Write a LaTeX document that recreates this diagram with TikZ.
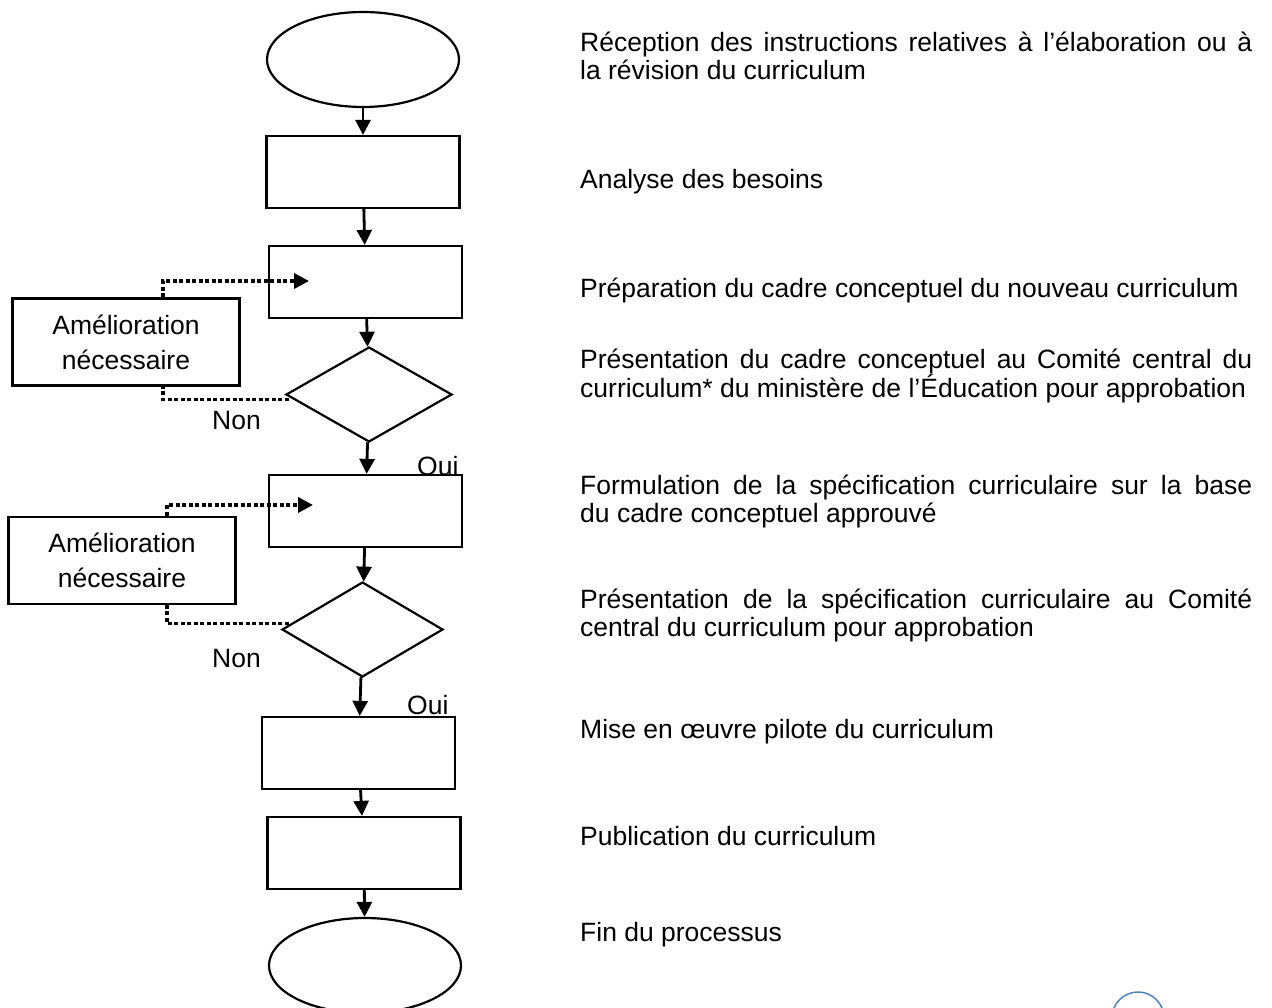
\documentclass[tikz,border=0pt]{standalone}
\usepackage{fontspec}
\setmainfont{Liberation Sans}
\usetikzlibrary{arrows.meta}
\usetikzlibrary{shapes.geometric}
\usetikzlibrary{positioning}
\definecolor{ringblue}{RGB}{79,129,189}
\setlength{\parindent}{0pt}
\setlength{\lineskiplimit}{-30pt}
\hyphenpenalty=10000
\exhyphenpenalty=10000

\begin{document}
\begin{tikzpicture}[
      x = 1pt, y = -1pt,
      >={Triangle[length=15pt, width=15pt]},
      font = \fontsize{26.5pt}{28pt}\selectfont,
      every node/.style = { inner sep = 0pt },
      shape box/.style = { draw, fill = white, line width = 2.2pt },
      terminal/.style = { shape box, ellipse, minimum width = 192pt, minimum height = 95pt },
      stepbox/.style = { shape box, rectangle, minimum width = 193pt, minimum height = 72pt },
      test/.style = { shape box, diamond, minimum width = 166pt, minimum height = 95pt },
      fix/.style = {
        shape box, rectangle, align = center,
        minimum width = 227pt, minimum height = 87pt,
        font = \fontsize{26.5pt}{35pt}\selectfont
      },
      flow/.style = { line width = 2.8pt, -> },
      retour/.style = { line width = 3.6pt, dash pattern = on 4pt off 2.5pt },
      caption/.style = { anchor = base west, text width = 672pt, align = justify },
      answer/.style = { anchor = base west },
    ]

    \useasboundingbox (0,0) rectangle (1272,1008);

    % answers first, the boxes cover them
    \node[answer] (Y1) at (417,475) {Oui};
    \node[answer] (Y2) at (407,714) {Oui};
    \node[answer] (N1) at (212,429) {Non};
    \node[answer] (N2) at (212,667) {Non};

    \node[terminal] (S) at (363,59.5) {};
    \node[stepbox] (B1) at (363,172) {};
    \node[stepbox] (B2) at (365.5,282) {};
    \node[test] (D1) at (369,394.5) {};
    \node[stepbox] (B3) at (365.5,511) {};
    \node[test, minimum width = 161pt] (D2) at (362.5,629.5) {};
    \node[stepbox] (B4) at (358.5,753) {};
    \node[stepbox] (B5) at (364,853) {};
    \node[terminal] (F) at (365,965.5) {};

    \node[fix] (A1) at (126,342) {Amélioration\\nécessaire};
    \node[fix] (A2) at (122,560.5) {Amélioration\\nécessaire};

    \foreach \a/\b in {S/B1, B1/B2, B2/D1, D1/B3, B3/D2, D2/B4, B4/B5, B5/F} {
      \draw[flow] (\a) -- (\b);
    }

    \coordinate (in2) at (309,281);
    \coordinate (in3) at (313,505);
    \draw[retour, ->] ([xshift=37pt]A1.north) |- (in2);
    \draw[retour] ([shift={(4pt,-5pt)}]D1.west) -| ([xshift=37pt]A1.south);
    \draw[retour, ->] ([xshift=45pt]A2.north) |- (in3);
    \draw[retour] ([shift={(8pt,6pt)}]D2.west) -| ([xshift=45pt]A2.south);

    \node[caption] (T1) at (580,52) {Réception des instructions relatives à l’élaboration ou à\linebreak la révision du curriculum};
    \node[caption] (T2) at (580,189) {Analyse des besoins};
    \node[caption] (T3) at (580,298) {Préparation du cadre conceptuel du nouveau curriculum};
    \node[caption] (T4) at (580,368) {Présentation du cadre conceptuel au Comité central du\linebreak curriculum* du ministère de l’Éducation pour approbation};
    \node[caption] (T5) at (580,494) {Formulation de la spécification curriculaire sur la base\linebreak du cadre conceptuel approuvé};
    \node[caption] (T6) at (580,608) {Présentation de la spécification curriculaire au Comité\linebreak central du curriculum pour approbation};
    \node[caption] (T7) at (580,738) {Mise en œuvre pilote du curriculum};
    \node[caption] (T8) at (580,845) {Publication du curriculum};
    \node[caption] (T9) at (580,941) {Fin du processus};

    \draw[line width = 1.5pt, ringblue] (1138,1018) circle[radius = 26pt];
  \end{tikzpicture}
\end{document}
